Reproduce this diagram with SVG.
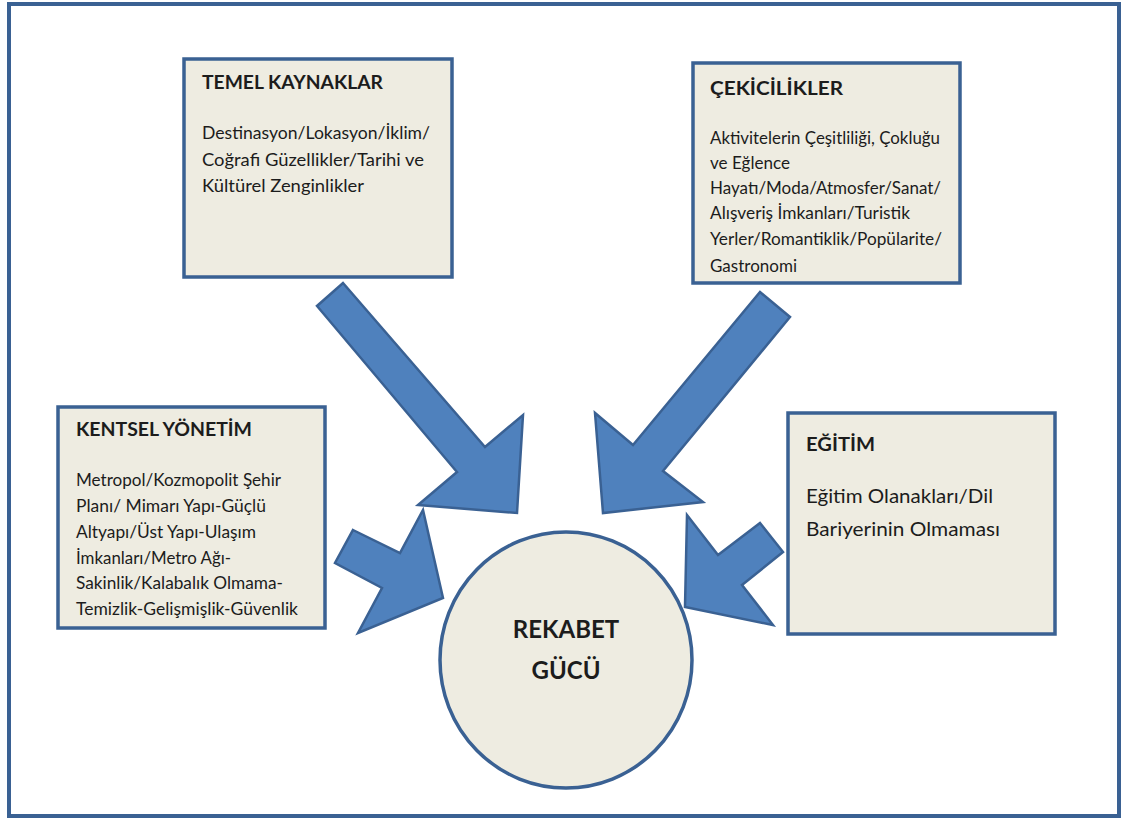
<svg xmlns="http://www.w3.org/2000/svg" width="1128" height="818" viewBox="0 0 1128 818">
<style>
.frame{fill:#ffffff;stroke:#3a6193;stroke-width:4}
.box{fill:#eeece1;stroke:#3a6193;stroke-width:3.5}
.arrow{fill:#4f81bd;stroke:#3a6193;stroke-width:2.5;stroke-linejoin:miter}
.t{font-family:Lato,"Open Sans","Liberation Sans",sans-serif;fill:#1c1c1c}
.title{font-size:19.5px;font-weight:bold}
.body{font-size:16.5px}
.big{font-size:20px}
.center{font-size:24px;font-weight:bold;text-anchor:middle}
</style>
<rect class="frame" x="9" y="4" width="1110" height="812"/>
<g id="connectors">
<polygon class="arrow" points="343,283 485,447 523,415 517,513 418,505 457,472 317,306"/>
<polygon class="arrow" points="760,292 790,317 663,471 703,502 603,513 595,413 633,445"/>
<polygon class="arrow" points="353,530 400,553 423,510 443,598 358,633 382,588 335,563"/>
<polygon class="arrow" points="760,523 783,552 742,585 773,625 685,607 687,515 718,555"/>
</g>
<g id="temel">
<rect class="box" x="184" y="59" width="268" height="218"/>
<text class="t title" x="202" y="89" textLength="181" lengthAdjust="spacingAndGlyphs">TEMEL KAYNAKLAR</text>
<text class="t body" x="202" y="139" textLength="228" lengthAdjust="spacingAndGlyphs">Destinasyon/Lokasyon/İklim/</text>
<text class="t body" x="202" y="166" textLength="222" lengthAdjust="spacingAndGlyphs">Coğrafi Güzellikler/Tarihi ve</text>
<text class="t body" x="202" y="192" textLength="162" lengthAdjust="spacingAndGlyphs">Kültürel Zenginlikler</text>
</g>
<g id="cekicilikler">
<rect class="box" x="693" y="63" width="267" height="220"/>
<text class="t title" x="710" y="95" textLength="133" lengthAdjust="spacingAndGlyphs">ÇEKİCİLİKLER</text>
<text class="t body" x="710" y="144" textLength="230" lengthAdjust="spacingAndGlyphs">Aktivitelerin Çeşitliliği, Çokluğu</text>
<text class="t body" x="710" y="169" textLength="80" lengthAdjust="spacingAndGlyphs">ve Eğlence</text>
<text class="t body" x="710" y="194" textLength="231" lengthAdjust="spacingAndGlyphs">Hayatı/Moda/Atmosfer/Sanat/</text>
<text class="t body" x="710" y="219" textLength="200" lengthAdjust="spacingAndGlyphs">Alışveriş İmkanları/Turistik</text>
<text class="t body" x="710" y="245" textLength="232" lengthAdjust="spacingAndGlyphs">Yerler/Romantiklik/Popülarite/</text>
<text class="t body" x="710" y="272" textLength="87" lengthAdjust="spacingAndGlyphs">Gastronomi</text>
</g>
<g id="kentsel">
<rect class="box" x="58" y="407" width="267" height="221"/>
<text class="t title" x="76" y="436" textLength="176" lengthAdjust="spacingAndGlyphs">KENTSEL YÖNETİM</text>
<text class="t body" x="76" y="486" textLength="205" lengthAdjust="spacingAndGlyphs">Metropol/Kozmopolit Şehir</text>
<text class="t body" x="76" y="512" textLength="190" lengthAdjust="spacingAndGlyphs">Planı/ Mimarı Yapı-Güçlü</text>
<text class="t body" x="76" y="538" textLength="180" lengthAdjust="spacingAndGlyphs">Altyapı/Üst Yapı-Ulaşım</text>
<text class="t body" x="76" y="564" textLength="155" lengthAdjust="spacingAndGlyphs">İmkanları/Metro Ağı-</text>
<text class="t body" x="76" y="589" textLength="207" lengthAdjust="spacingAndGlyphs">Sakinlik/Kalabalık Olmama-</text>
<text class="t body" x="76" y="615" textLength="222" lengthAdjust="spacingAndGlyphs">Temizlik-Gelişmişlik-Güvenlik</text>
</g>
<g id="egitim">
<rect class="box" x="788" y="413" width="267" height="221"/>
<text class="t title" x="806" y="451" textLength="69" lengthAdjust="spacingAndGlyphs">EĞİTİM</text>
<text class="t big" x="806" y="503" textLength="187" lengthAdjust="spacingAndGlyphs">Eğitim Olanakları/Dil</text>
<text class="t big" x="806" y="536" textLength="194" lengthAdjust="spacingAndGlyphs">Bariyerinin Olmaması</text>
</g>
<g id="rekabet">
<ellipse class="box" cx="566" cy="660" rx="126" ry="128"/>
<text class="t center" x="566" y="638">REKABET</text>
<text class="t center" x="566" y="679">GÜCÜ</text>
</g>
</svg>
